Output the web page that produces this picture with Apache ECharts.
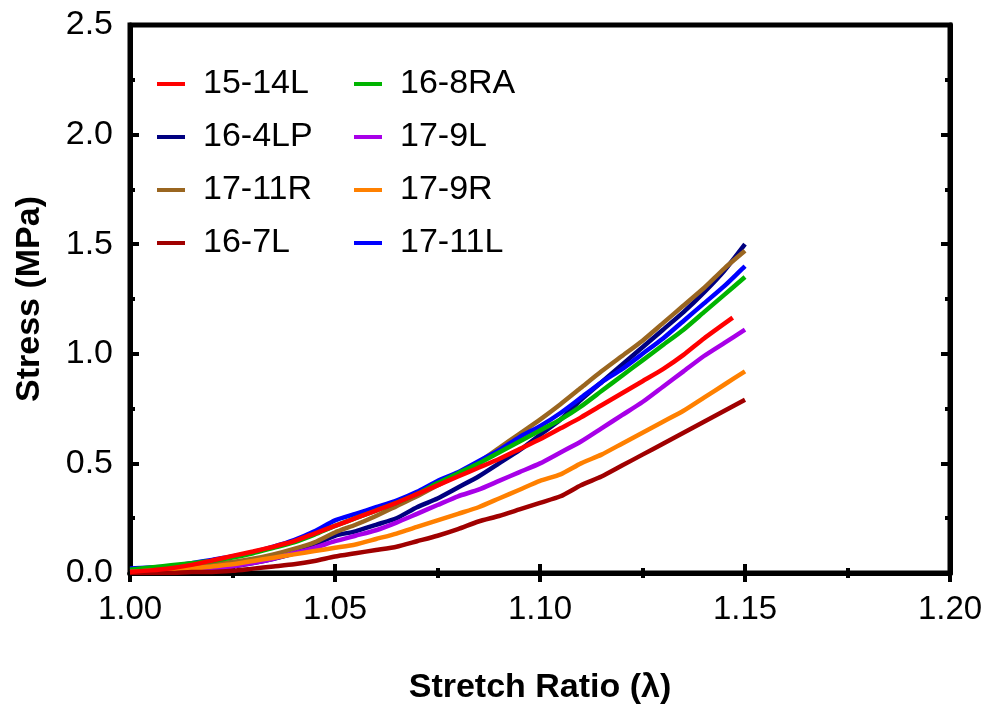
<!DOCTYPE html>
<html>
<head>
<meta charset="utf-8">
<title>Stress vs Stretch Ratio</title>
<script src="https://cdn.jsdelivr.net/npm/echarts@6/dist/echarts.min.js"></script>
<style>
  html, body { margin: 0; padding: 0; background: #fff; }
  #chart { width: 993px; height: 709px; }
</style>
</head>
<body>
<div id="chart"></div>
<script>
// Stretch ratio samples (lambda)
const stretch = [1.000, 1.005, 1.010, 1.015, 1.020, 1.025, 1.030, 1.035, 1.040, 1.045,
                 1.050, 1.055, 1.060, 1.065, 1.070, 1.075, 1.080, 1.085, 1.090, 1.095,
                 1.100, 1.105, 1.110, 1.115, 1.120, 1.125, 1.130, 1.135, 1.140, 1.145, 1.150];
const stretchShort = [1.000, 1.005, 1.010, 1.015, 1.020, 1.025, 1.030, 1.035, 1.040, 1.045,
                      1.050, 1.055, 1.060, 1.065, 1.070, 1.075, 1.080, 1.085, 1.090, 1.095,
                      1.100, 1.105, 1.110, 1.115, 1.120, 1.125, 1.130, 1.135, 1.140, 1.147];

// Stress (MPa) per specimen
const s15_14L = [0.005, 0.012, 0.022, 0.037, 0.057, 0.078, 0.098, 0.120, 0.145, 0.180,
                 0.215, 0.250, 0.285, 0.320, 0.360, 0.400, 0.440, 0.480, 0.520, 0.565,
                 0.610, 0.660, 0.710, 0.765, 0.820, 0.875, 0.930, 0.995, 1.070, 1.165];
const s16_4LP = [0.000, 0.005, 0.010, 0.010, 0.020, 0.030, 0.045, 0.065, 0.090, 0.130,
                 0.170, 0.190, 0.220, 0.250, 0.300, 0.340, 0.390, 0.440, 0.500, 0.560,
                 0.630, 0.700, 0.790, 0.870, 0.950, 1.030, 1.110, 1.190, 1.280, 1.380, 1.500];
const s17_11R = [0.010, 0.015, 0.020, 0.030, 0.040, 0.050, 0.065, 0.085, 0.110, 0.140,
                 0.185, 0.220, 0.260, 0.305, 0.350, 0.400, 0.450, 0.505, 0.570, 0.635,
                 0.700, 0.770, 0.845, 0.920, 0.990, 1.060, 1.140, 1.220, 1.300, 1.390, 1.470];
const s16_7L  = [0.000, 0.000, 0.000, 0.005, 0.005, 0.010, 0.020, 0.030, 0.040, 0.055,
                 0.075, 0.090, 0.105, 0.120, 0.145, 0.170, 0.200, 0.235, 0.260, 0.290,
                 0.320, 0.350, 0.400, 0.440, 0.490, 0.540, 0.590, 0.640, 0.690, 0.740, 0.790];
const s16_8RA = [0.015, 0.025, 0.035, 0.045, 0.055, 0.070, 0.090, 0.115, 0.140, 0.175,
                 0.215, 0.250, 0.285, 0.320, 0.360, 0.410, 0.455, 0.500, 0.550, 0.600,
                 0.650, 0.700, 0.760, 0.830, 0.900, 0.970, 1.040, 1.110, 1.190, 1.270, 1.350];
const s17_9L  = [0.005, 0.005, 0.005, 0.010, 0.015, 0.030, 0.045, 0.065, 0.090, 0.115,
                 0.145, 0.170, 0.195, 0.230, 0.270, 0.310, 0.350, 0.380, 0.420, 0.460,
                 0.500, 0.550, 0.600, 0.660, 0.720, 0.780, 0.850, 0.920, 0.990, 1.050, 1.110];
const s17_9R  = [0.005, 0.010, 0.015, 0.020, 0.030, 0.040, 0.055, 0.070, 0.085, 0.100,
                 0.115, 0.130, 0.155, 0.180, 0.210, 0.240, 0.270, 0.300, 0.340, 0.380,
                 0.420, 0.450, 0.500, 0.540, 0.590, 0.640, 0.690, 0.740, 0.800, 0.860, 0.920];
const s17_11L = [0.020, 0.025, 0.030, 0.045, 0.060, 0.075, 0.095, 0.120, 0.150, 0.190,
                 0.240, 0.270, 0.300, 0.330, 0.370, 0.420, 0.460, 0.510, 0.560, 0.620,
                 0.670, 0.730, 0.800, 0.870, 0.930, 1.000, 1.070, 1.150, 1.230, 1.310, 1.400];

// Axis tick labels
const xTickLabels = ['1.00', '1.05', '1.10', '1.15', '1.20'];
const yTickLabels = ['0.0', '0.5', '1.0', '1.5', '2.0', '2.5'];

const legendLeft  = ['15-14L', '16-4LP', '17-11R', '16-7L'];
const legendRight = ['16-8RA', '17-9L', '17-9R', '17-11L'];

const FONT = '"Liberation Sans", Arial, Helvetica, sans-serif';

function pairs(xs, ys) {
  return ys.map((v, i) => [xs[i], v]);
}

// Drawing order: red specimen drawn last so it sits on top of the bundle
const seriesDefs = [
  { name: '16-4LP', x: stretch, y: s16_4LP, color: '#000080' },
  { name: '17-11R', x: stretch, y: s17_11R, color: '#9a6620' },
  { name: '17-11L', x: stretch, y: s17_11L, color: '#0000ff' },
  { name: '16-8RA', x: stretch, y: s16_8RA, color: '#00b400' },
  { name: '17-9L',  x: stretch, y: s17_9L,  color: '#a800e8' },
  { name: '17-9R',  x: stretch, y: s17_9R,  color: '#ff8000' },
  { name: '16-7L',  x: stretch, y: s16_7L,  color: '#a00000' },
  { name: '15-14L', x: stretchShort, y: s15_14L, color: '#ff0000' }
];

const chart = echarts.init(document.getElementById('chart'), null, { renderer: 'canvas' });

const tickStyle = { show: true, inside: true, length: 9, lineStyle: { color: '#000', width: 4 } };
const minorStyle = { show: true, splitNumber: 2, length: 5, lineStyle: { color: '#000', width: 4 } };

const baseLegend = {
  orient: 'vertical',
  top: 62,
  itemWidth: 28,
  itemHeight: 4,
  itemGap: 19,
  icon: 'rect',
  textStyle: { fontFamily: FONT, fontSize: 34, color: '#000', padding: [0, 0, 0, 13] }
};

chart.setOption({
  animation: false,
  backgroundColor: '#fff',
  grid: {
    left: 130, right: 43, top: 25, bottom: 136,
    containLabel: false, outerBoundsMode: 'none',
    show: true, borderColor: '#000', borderWidth: 5, backgroundColor: 'transparent'
  },
  legend: [
    Object.assign({}, baseLegend, { left: 152, data: legendLeft }),
    Object.assign({}, baseLegend, { left: 349, data: legendRight })
  ],
  xAxis: [
    {
      type: 'value', min: 1.0, max: 1.2, interval: 0.05, position: 'bottom',
      name: 'Stretch Ratio (\u03bb)', nameLocation: 'middle', nameGap: 98,
      nameTextStyle: { fontFamily: FONT, fontWeight: 'bold', fontSize: 34, color: '#000' },
      axisLine: { show: true, lineStyle: { color: '#000', width: 5 } },
      axisTick: tickStyle, minorTick: minorStyle,
      splitLine: { show: false },
      axisLabel: {
        margin: 20, fontFamily: FONT, fontSize: 33, color: '#000',
        formatter: v => xTickLabels[Math.round((v - 1.0) / 0.05)]
      }
    },
    {
      type: 'value', min: 1.0, max: 1.2, interval: 0.05, position: 'top',
      axisLine: { show: true, lineStyle: { color: '#000', width: 5 } },
      axisTick: tickStyle, minorTick: minorStyle,
      axisLabel: { show: false }, splitLine: { show: false }
    }
  ],
  yAxis: [
    {
      type: 'value', min: 0, max: 2.5, interval: 0.5, position: 'left',
      name: 'Stress (MPa)', nameLocation: 'middle', nameGap: 83, nameRotate: 90,
      nameTextStyle: { fontFamily: FONT, fontWeight: 'bold', fontSize: 34, color: '#000' },
      axisLine: { show: true, lineStyle: { color: '#000', width: 5 } },
      axisTick: tickStyle, minorTick: minorStyle,
      splitLine: { show: false },
      axisLabel: {
        margin: 17, fontFamily: FONT, fontSize: 34, color: '#000',
        formatter: v => yTickLabels[Math.round(v / 0.5)]
      }
    },
    {
      type: 'value', min: 0, max: 2.5, interval: 0.5, position: 'right',
      axisLine: { show: true, lineStyle: { color: '#000', width: 5 } },
      axisTick: tickStyle, minorTick: minorStyle,
      axisLabel: { show: false }, splitLine: { show: false }
    }
  ],
  series: seriesDefs.map(d => ({
    name: d.name,
    type: 'line',
    data: pairs(d.x, d.y),
    showSymbol: false,
    symbol: 'none',
    smooth: 0.2,
    clip: true,
    color: d.color,
    lineStyle: { color: d.color, width: 4.5 },
    itemStyle: { color: d.color }
  }))
});
</script>
</body>
</html>
